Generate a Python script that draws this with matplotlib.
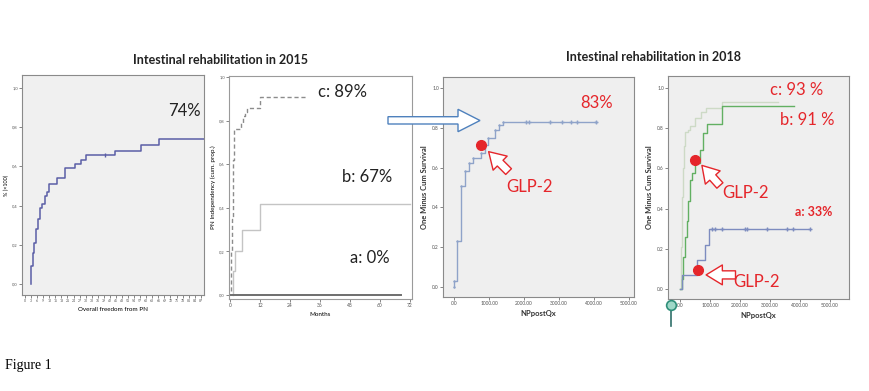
import matplotlib
matplotlib.use("Agg")
import matplotlib.pyplot as plt
from matplotlib.patches import Polygon
from matplotlib.lines import Line2D

plt.rcParams['font.family'] = ['Lato', 'DejaVu Sans']

W, H = 869, 391
RED = "#e5262b"

# ---- panel 1 (2015, overall freedom from PN, months) ----
p1_t = [3.0, 3.1, 3.8, 4.5, 5.3, 6.3, 7.4, 8.3, 9.9, 11.0, 12.0, 16.0, 19.8,
        24.8, 27.6, 30.2, 44.6, 57.4, 66.3, 88.6]
p1_y = [0.0, 0.09, 0.16, 0.21, 0.28, 0.33, 0.39, 0.41, 0.45, 0.47, 0.51, 0.54,
        0.59, 0.61, 0.63, 0.66, 0.68, 0.71, 0.74, 0.74]
p1_cens = [39.6]
p1_xticks = list(range(0, 90, 3))
p1_yticks = [0.0, 0.2, 0.4, 0.6, 0.8, 1.0]

# ---- panel 2 (2015 by group, months) ----
p2_c_t = [0.3, 0.5, 0.8, 1.0, 1.3, 1.7, 4.3, 5.0, 5.8, 6.7, 12.0, 30.7]
p2_c_y = [0.02, 0.2, 0.35, 0.5, 0.62, 0.76, 0.79, 0.82, 0.84, 0.86, 0.91, 0.91]
p2_b_t = [1.0, 1.2, 2.0, 4.9, 12.0, 72]
p2_b_y = [0.0, 0.11, 0.20, 0.30, 0.42, 0.42]
p2_a_t = [0.0, 68.4]
p2_a_y = [0.0, 0.0]
p2_xticks = [0, 12, 24, 36, 48, 60, 72]

# ---- panel 3 (2018 overall, days) ----
p3_t = [0, 10, 94, 200, 314, 437, 551, 763, 886, 980, 1171, 1294, 1409, 4057]
p3_y = [0.0, 0.03, 0.23, 0.51, 0.585, 0.625, 0.647, 0.672, 0.714, 0.747,
        0.789, 0.814, 0.83, 0.83]
p3_cens = [2060, 2150, 2743, 3077, 3333, 3524, 4057]
p3_glp2 = (763, 0.714)

# ---- panel 4 (2018 by group, days) ----
p4_c_t = [0, 30, 60, 100, 130, 170, 270, 330, 500, 700, 850, 1400, 3280]
p4_c_y = [0.0, 0.21, 0.46, 0.60, 0.71, 0.78, 0.79, 0.81, 0.85, 0.88, 0.90, 0.93, 0.93]
p4_b_t = [0, 60, 110, 167, 223, 277, 333, 390, 500, 667, 777, 890, 1390, 3810]
p4_b_y = [0.0, 0.05, 0.16, 0.26, 0.34, 0.44, 0.54, 0.575, 0.625, 0.69, 0.775,
          0.82, 0.91, 0.91]
p4_a_t = [0, 70, 550, 830, 960, 4333]
p4_a_y = [0.0, 0.07, 0.145, 0.22, 0.30, 0.30]
p4_a_cens = [1056, 1167, 1390, 2167, 2243, 2890, 3557, 3757, 4333]
p4_glp2_b = (500, 0.64)
p4_glp2_a = (590, 0.095)
days_ticks = [0, 1000, 2000, 3000, 4000, 5000]
days_labels = [".00", "1000.00", "2000.00", "3000.00", "4000.00", "5000.00"]


def box(x0, y0, x1, y1):
    # pixel box (top-left origin) -> figure fraction rect
    return [x0 / W, 1 - y1 / H, (x1 - x0) / W, (y1 - y0) / H]


def style(ax, bg, edge="#8a8a8a"):
    ax.set_facecolor(bg)
    for s in ax.spines.values():
        s.set_color(edge)
        s.set_linewidth(0.8)
    ax.tick_params(length=2, width=0.5, colors="#555555", pad=1)


def hollow_arrow(ax, tip, tail, scale=1.0):
    ax.annotate("", xy=tip, xytext=tail,
                arrowprops=dict(arrowstyle="simple,head_length=0.9,head_width=1.1,tail_width=0.45",
                                fc="white", ec=RED, lw=1.0, mutation_scale=13 * scale,
                                shrinkA=0, shrinkB=0))


fig = plt.figure(figsize=(W / 100, H / 100), dpi=100)

# titles
fig.text(220 / W, 1 - 60 / H, "Intestinal rehabilitation in 2015", ha="center",
         va="center", fontsize=9, fontweight="bold", color="#222222")
fig.text(653 / W, 1 - 57 / H, "Intestinal rehabilitation in 2018", ha="center",
         va="center", fontsize=9, fontweight="bold", color="#222222")

# panel 1
ax1 = fig.add_axes(box(22, 75, 204, 295))
style(ax1, "#f0f0f0")
ax1.step(p1_t, p1_y, where="post", color="#5b5ea6", lw=1.1)
ax1.plot(p1_cens, [0.66], marker="|", color="#5b5ea6", ms=3, ls="none")
ax1.set_xlim(-1.5, 88.6)
ax1.set_ylim(-0.056, 1.066)
ax1.set_xticks(p1_xticks)
ax1.set_xticklabels([str(v) for v in p1_xticks], fontsize=2.5)
ax1.set_yticks(p1_yticks)
ax1.set_yticklabels([f"{v:.1f}".replace(".", ",") for v in p1_yticks], fontsize=3)
ax1.set_xlabel("Overall freedom from PN", fontsize=4.5, labelpad=3)
ax1.set_ylabel("% (×100)", fontsize=4, labelpad=2)
ax1.text(79, 0.88, "74%", fontsize=12, ha="center", va="center", color="#222222")

# panel 2
ax2 = fig.add_axes(box(229, 76, 412, 299))
style(ax2, "white", edge="#9a9a9a")
ax2.step(p2_c_t, p2_c_y, where="post", color="#8c8c8c", lw=1.0, ls=(0, (3, 2)))
ax2.step(p2_b_t, p2_b_y, where="post", color="#c4c4c4", lw=1.0)
ax2.plot(p2_a_t, p2_a_y, color="#6e6e6e", lw=1.4)
ax2.set_xlim(-0.4, 72.8)
ax2.set_ylim(-0.018, 1.005)
ax2.set_xticks(p2_xticks)
ax2.set_xticklabels([str(v) for v in p2_xticks], fontsize=3.5)
ax2.set_yticks(p1_yticks)
ax2.set_yticklabels([f"{v:.1f}".replace(".", ",") for v in p1_yticks], fontsize=3)
ax2.set_xlabel("Months", fontsize=4.5, labelpad=3)
ax2.set_ylabel("PN Independency (cum. prop.)", fontsize=4.5, labelpad=2)
ax2.text(45, 0.93, "c: 89%", fontsize=12, ha="center", va="center", color="#222222")
ax2.text(55, 0.54, "b: 67%", fontsize=12, ha="center", va="center", color="#222222")
ax2.text(56, 0.17, "a: 0%", fontsize=12, ha="center", va="center", color="#222222")

# panel 3
ax3 = fig.add_axes(box(443, 77, 634, 297))
style(ax3, "#efefef")
ax3.step(p3_t, p3_y, where="post", color="#8fa3c9", lw=1.0, marker="+", ms=2)
ax3.plot(p3_cens, [p3_y[-1]] * len(p3_cens), ls="none", marker="+", ms=3,
         color="#8fa3c9")
ax3.plot(*p3_glp2, marker="o", ms=7, color=RED, mec=RED)
hollow_arrow(ax3, (990, 0.68), (1560, 0.58))
ax3.text(2171, 0.50, "GLP-2", fontsize=12, ha="center", va="center", color=RED)
ax3.text(4077, 0.923, "83%", fontsize=12, ha="center", va="center", color=RED)
ax3.set_xlim(-314, 5143)
ax3.set_ylim(-0.05, 1.055)
ax3.set_xticks(days_ticks)
ax3.set_xticklabels(days_labels, fontsize=3.5)
ax3.set_yticks(p1_yticks)
ax3.set_yticklabels([f"{v:.1f}" for v in p1_yticks], fontsize=3.5)
ax3.set_xlabel("NPpostQx", fontsize=5.5, fontweight="bold", labelpad=3, color="#333333")
ax3.set_ylabel("One Minus Cum Survival", fontsize=5.5, fontweight="bold",
               labelpad=3, color="#333333")

# panel 4
ax4 = fig.add_axes(box(668, 76, 849, 299))
style(ax4, "#efefef")
ax4.step(p4_c_t, p4_c_y, where="post", color="#cddac6", lw=1.0)
ax4.step(p4_b_t, p4_b_y, where="post", color="#62b062", lw=1.0)
ax4.step(p4_a_t, p4_a_y, where="post", color="#7d8cbf", lw=1.0)
ax4.plot(p4_a_cens, [p4_a_y[-1]] * len(p4_a_cens), ls="none", marker="+",
         ms=3, color="#7d8cbf")
ax4.plot(*p4_glp2_b, marker="o", ms=7, color=RED)
ax4.plot(*p4_glp2_a, marker="o", ms=7, color=RED)
hollow_arrow(ax4, (730, 0.615), (1330, 0.515))
hollow_arrow(ax4, (870, 0.07), (1850, 0.07))
ax4.text(2170, 0.48, "GLP-2", fontsize=12, ha="center", va="center", color=RED)
ax4.text(2560, 0.035, "GLP-2", fontsize=12, ha="center", va="center", color=RED)
ax4.text(3890, 0.99, "c: 93 %", fontsize=12, ha="center", va="center", color=RED)
ax4.text(4243, 0.84, "b: 91 %", fontsize=12, ha="center", va="center", color=RED)
ax4.text(4443, 0.385, "a: 33%", fontsize=9, fontweight="bold", ha="center",
         va="center", color=RED)
ax4.set_xlim(-400, 5633)
ax4.set_ylim(-0.05, 1.06)
ax4.set_xticks(days_ticks)
ax4.set_xticklabels(days_labels, fontsize=3.5)
ax4.set_yticks(p1_yticks)
ax4.set_yticklabels([f"{v:.1f}" for v in p1_yticks], fontsize=3.5)
ax4.set_xlabel("NPpostQx", fontsize=5.5, fontweight="bold", labelpad=3, color="#333333")
ax4.set_ylabel("One Minus Cum Survival", fontsize=5.5, fontweight="bold",
               labelpad=3, color="#333333")

# big outlined arrow between the two years
arrow_px = [(388, 116.7), (458, 116.7), (458, 109.3), (480, 120.5),
            (458, 131.7), (458, 124), (388, 124)]
fig.add_artist(Polygon([(x / W, 1 - y / H) for x, y in arrow_px], closed=True,
                       transform=fig.transFigure, fc="white", ec="#4f81bd", lw=1.0))

# small green marker at bottom of last panel
fig.add_artist(Line2D([671 / W, 671 / W], [1 - 305 / H, 1 - 326 / H],
                      transform=fig.transFigure, color="#2f6f6a", lw=1.2))
fig.add_artist(Line2D([671 / W], [1 - 305 / H], transform=fig.transFigure,
                      marker="o", ms=7, mfc="#9fd8c8", mec="#2f8f7a", mew=1.2))

fig.text(5 / W, 1 - 366 / H, "Figure 1", fontsize=10, family="Liberation Serif",
         ha="left", va="center", color="black")

fig.savefig("out.png", dpi=100)
